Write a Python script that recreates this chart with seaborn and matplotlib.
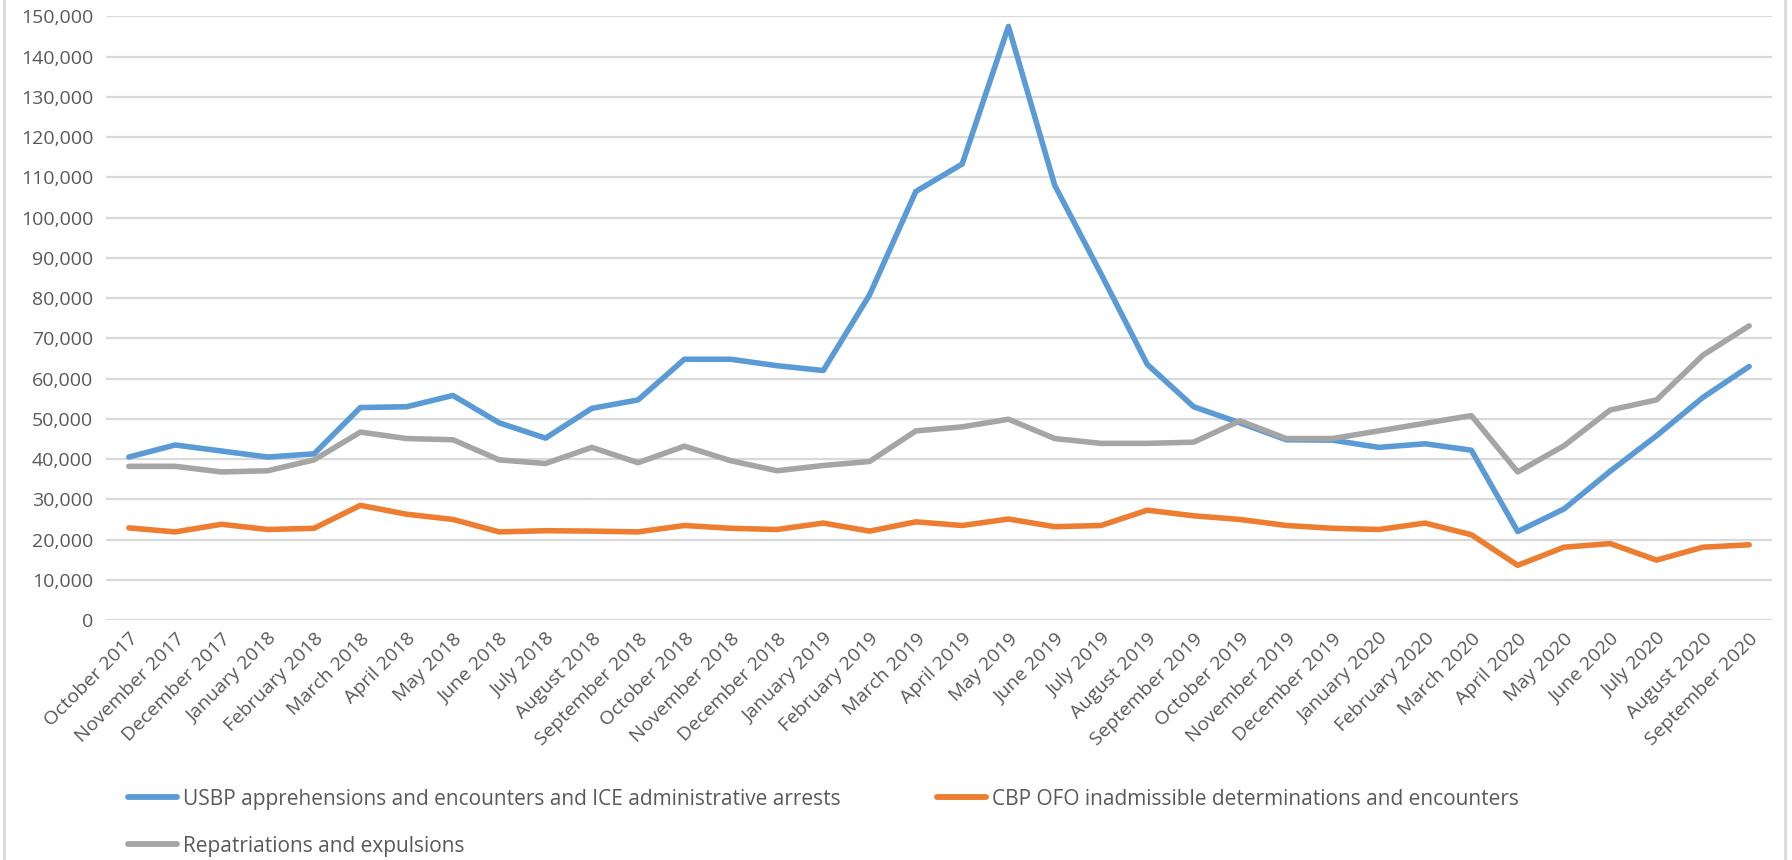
import pandas as pd
import numpy as np
import seaborn as sns
import matplotlib.pyplot as plt
from matplotlib.lines import Line2D
from matplotlib.ticker import FuncFormatter, MultipleLocator

months = [
    "October 2017", "November 2017", "December 2017", "January 2018", "February 2018",
    "March 2018", "April 2018", "May 2018", "June 2018", "July 2018", "August 2018",
    "September 2018", "October 2018", "November 2018", "December 2018", "January 2019",
    "February 2019", "March 2019", "April 2019", "May 2019", "June 2019", "July 2019",
    "August 2019", "September 2019", "October 2019", "November 2019", "December 2019",
    "January 2020", "February 2020", "March 2020", "April 2020", "May 2020", "June 2020",
    "July 2020", "August 2020", "September 2020",
]

usbp = [40500, 43500, 42000, 40500, 41300, 52800, 53000, 55800, 49000, 45200, 52600,
        54700, 64800, 64800, 63200, 62000, 80800, 106500, 113300, 147500, 108000, 86000,
        63500, 53000, 49000, 44800, 44700, 42900, 43800, 42200, 22000, 27600, 37000,
        45800, 55300, 63000]

ofo = [22900, 21900, 23800, 22500, 22800, 28500, 26300, 25000, 21900, 22200, 22100,
       21900, 23500, 22800, 22500, 24100, 22100, 24400, 23500, 25100, 23200, 23500,
       27300, 25900, 25000, 23500, 22800, 22500, 24100, 21200, 13600, 18100, 19000,
       14900, 18100, 18700]

repat = [38200, 38200, 36800, 37100, 39800, 46700, 45100, 44800, 39800, 38900, 42900,
         39100, 43200, 39600, 37100, 38400, 39400, 47000, 48000, 49900, 45100, 43900,
         43900, 44200, 49500, 45100, 45100, 47000, 48900, 50800, 36800, 43300, 52200,
         54700, 65800, 73100]

series_names = [
    "USBP apprehensions and encounters and ICE administrative arrests",
    "CBP OFO inadmissible determinations and encounters",
    "Repatriations and expulsions",
]
colors = ["#5B9BD5", "#ED7D31", "#A5A5A5"]

df = pd.concat([
    pd.DataFrame({"idx": np.arange(len(months)), "value": vals, "series": name})
    for name, vals in zip(series_names, [usbp, ofo, repat])
])

sns.set_theme(style="white")
plt.rcParams["font.family"] = ["Open Sans", "DejaVu Sans"]

fig = plt.figure(figsize=(17.92, 8.6), dpi=100)
ax = fig.add_axes([0.059, 0.279, 0.930, 0.702])

sns.lineplot(data=df, x="idx", y="value", hue="series", palette=colors,
             hue_order=series_names, linewidth=4.0, ax=ax, legend=False)

ax.set_xlim(-0.5, len(months) - 0.5)
ax.set_ylim(0, 150000)
ax.yaxis.set_major_locator(MultipleLocator(10000))
ax.yaxis.set_major_formatter(FuncFormatter(lambda v, p: f"{int(v):,}"))
ax.grid(axis="y", color="#D9D9D9", linewidth=1.6)
ax.set_axisbelow(True)
for s in ax.spines.values():
    s.set_visible(False)

ax.set_xticks(np.arange(len(months)))
ax.set_xticklabels(months, rotation=45, ha="right", rotation_mode="anchor",
                   fontsize=14, color="#595959")
ax.tick_params(axis="y", labelsize=14, labelcolor="#595959", length=0, pad=9)
ax.tick_params(axis="x", length=0, pad=7)
ax.set_xlabel("")
ax.set_ylabel("")

# legend laid out row by row like the original (ncol fills columns first)
order = [0, 2, 1]
handles = [Line2D([], [], color=colors[i], linewidth=4.2) for i in order]
labels = [series_names[i] for i in order]
leg = fig.legend(handles, labels, loc="upper left", bbox_to_anchor=(0.0714, 0.083),
                 ncol=2, frameon=False, fontsize=15, handlelength=2.35,
                 handletextpad=0.3, columnspacing=4.6, labelspacing=1.25,
                 borderpad=0, borderaxespad=0)
for t in leg.get_texts():
    t.set_color("#595959")

# chart-area frame edges
fig.add_artist(Line2D([0.002, 0.002], [0, 1], transform=fig.transFigure,
                      color="#D9D9D9", linewidth=2))
fig.add_artist(Line2D([0.996, 0.996], [0, 1], transform=fig.transFigure,
                      color="#D9D9D9", linewidth=2))

fig.savefig("out.png", dpi=100)
